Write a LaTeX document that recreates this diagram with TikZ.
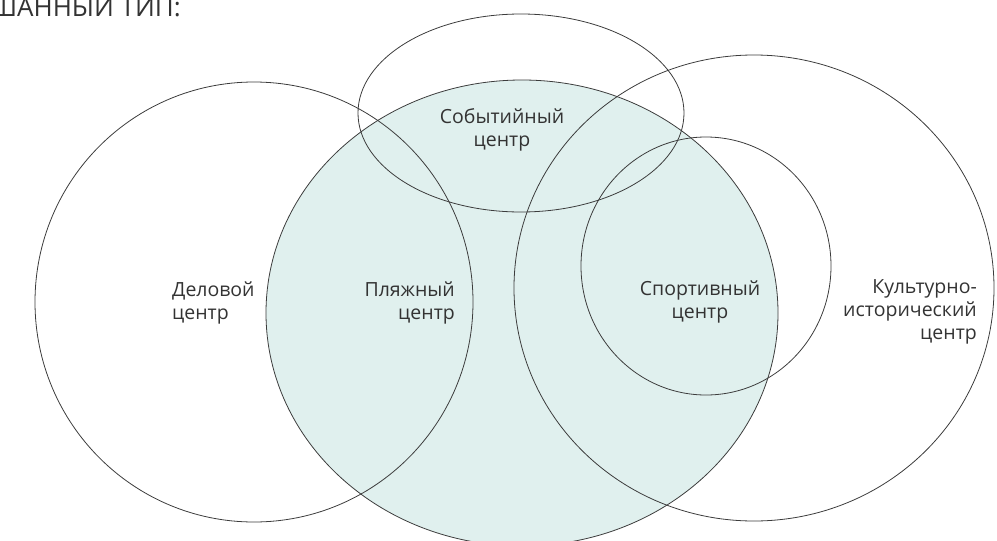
\documentclass[tikz,border=0pt]{standalone}
\usepackage{fontspec}
\setmainfont{Open Sans}
\usepackage{xcolor}
\definecolor{ringgray}{HTML}{3C3C3C}
\definecolor{textgray}{HTML}{333333}
\definecolor{beachfill}{HTML}{E0F0EE}

\begin{document}
\begin{tikzpicture}[
    x=1pt, y=-1pt,
    ring/.style={
        draw=ringgray,
        line width=0.8pt
    },
    venntext/.style={
        text=textgray,
        inner sep=0pt,
        font=\fontsize{19.5}{23}\selectfont
    }
]
\useasboundingbox (0,0) rectangle (997,541);

% Centres
\coordinate (business) at (254,302);
\coordinate (beach) at (522,313);
\coordinate (event) at (521,113);
\coordinate (culture) at (754,288);
\coordinate (sport) at (706,266);

% Shaded set
\fill[beachfill] (beach) ellipse [x radius=256, y radius=233];

% Outlines
\draw[ring] (business) ellipse [x radius=219, y radius=220];
\draw[ring] (beach) ellipse [x radius=256, y radius=233];
\draw[ring] (event) ellipse [x radius=163, y radius=99];
\draw[ring] (culture) ellipse [x radius=240, y radius=233];
\draw[ring] (sport) ellipse [x radius=125, y radius=129];

% Labels
\node[venntext, anchor=base east, font=\fontsize{26}{30}\selectfont] (title) at (181,16) {ШАННЫЙ ТИП:};
\node[venntext, align=left, anchor=west] (businesslbl) at (172,303) {Деловой\\центр};
\node[venntext, align=right, anchor=east] (beachlbl) at (455,303) {Пляжный\\центр};
\node[venntext, align=center] (eventlbl) at (502,130) {Событийный\\центр};
\node[venntext, align=center] (sportlbl) at (700,302) {Спортивный\\центр};
\node[venntext, align=right, anchor=east] (culturelbl) at (977,312) {Культурно-\\исторический\\центр};

\end{tikzpicture}
\end{document}
